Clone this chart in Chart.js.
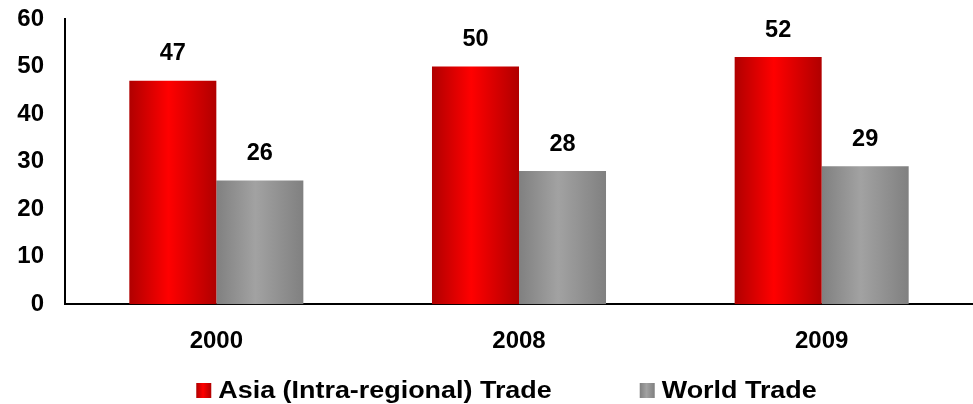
<!DOCTYPE html>
<html>
<head>
<meta charset="utf-8">
<script src="https://cdn.jsdelivr.net/npm/chart.js@4"></script>
<style>
  html, body { margin: 0; padding: 0; background: #fff; }
  #wrap { width: 973px; height: 404px; }
</style>
</head>
<body>
<div id="wrap"><canvas id="tradeChart"></canvas></div>
<script>
const years = ['2000', '2008', '2009'];
const asiaTrade = [47, 50, 52];
const worldTrade = [26, 28, 29];
const seriesNames = ['Asia (Intra-regional) Trade', 'World Trade'];
const yTicks = [0, 10, 20, 30, 40, 50, 60];

const FONT = "Arial, 'Liberation Sans', Helvetica, sans-serif";
const CAT_PCT = 0.575;

// edge / centre colours of the cylinder-like shading per series
const shades = [
  ['#b00000', '#ff0000'],
  ['#808080', '#a2a2a2']
];

function barGradient(ctx, x0, x1, pair) {
  const g = ctx.createLinearGradient(x0, 0, x1, 0);
  g.addColorStop(0, pair[0]);
  g.addColorStop(0.45, pair[1]);
  g.addColorStop(1, pair[0]);
  return g;
}

// gradient spans the bar's own width, worked out from the category scale
function shadeFor(seriesIdx) {
  return (c) => {
    const chart = c.chart;
    const x = chart.scales.x;
    if (!x || c.dataIndex === undefined) return shades[seriesIdx][1];
    const centre = x.getPixelForValue(c.dataIndex);
    const half = (x.width / years.length) * CAT_PCT / 2;
    if (!Number.isFinite(centre) || !Number.isFinite(half) || half <= 0) return shades[seriesIdx][1];
    const x0 = seriesIdx === 0 ? centre - half : centre;
    return barGradient(chart.ctx, x0, x0 + half, shades[seriesIdx]);
  };
}

// value printed above each bar
const valueLabels = {
  id: 'valueLabels',
  afterDatasetsDraw(chart) {
    const ctx = chart.ctx;
    ctx.save();
    ctx.font = 'bold 23.5px ' + FONT;
    ctx.fillStyle = '#000';
    ctx.textAlign = 'center';
    ctx.textBaseline = 'middle';
    chart.data.datasets.forEach((ds, i) => {
      chart.getDatasetMeta(i).data.forEach((bar, j) => {
        ctx.fillText(ds.data[j], bar.x, bar.y - 27);
      });
    });
    ctx.restore();
  }
};

// legend row at the bottom with shaded boxes; text is drawn a little wide
const bottomLegend = {
  id: 'bottomLegend',
  afterDraw(chart) {
    const ctx = chart.ctx;
    const box = 15, gap = 7, spacing = 88, y = 391, stretch = 1.17;
    ctx.save();
    ctx.font = 'bold 23px ' + FONT;
    const widths = seriesNames.map(n => box + gap + ctx.measureText(n).width * stretch);
    const total = widths.reduce((a, b) => a + b, 0) + spacing * (widths.length - 1);
    let x = chart.width / 2 + 20 - total / 2;
    ctx.textBaseline = 'middle';
    seriesNames.forEach((n, i) => {
      ctx.fillStyle = barGradient(ctx, x, x + box, shades[i]);
      ctx.fillRect(x, y - 8, box, 15);
      ctx.save();
      ctx.translate(x + box + gap, y + 1);
      ctx.scale(stretch, 1);
      ctx.fillStyle = '#000';
      ctx.fillText(n, 0, 0);
      ctx.restore();
      x += widths[i] + spacing;
    });
    ctx.restore();
  }
};

const tickFont = { family: FONT, size: 24, weight: 'bold' };

new Chart(document.getElementById('tradeChart'), {
  type: 'bar',
  data: {
    labels: years,
    datasets: [
      { label: seriesNames[0], data: asiaTrade, backgroundColor: shadeFor(0) },
      { label: seriesNames[1], data: worldTrade, backgroundColor: shadeFor(1) }
    ]
  },
  options: {
    responsive: true,
    maintainAspectRatio: false,
    animation: false,
    layout: { padding: { top: 19, right: 0, bottom: 25, left: 0 } },
    datasets: { bar: { categoryPercentage: CAT_PCT, barPercentage: 1 } },
    plugins: { legend: { display: false }, tooltip: { enabled: false } },
    scales: {
      x: {
        grid: { display: false, drawTicks: false },
        border: { color: '#000', width: 2 },
        ticks: { color: '#000', font: tickFont, padding: 23 }
      },
      y: {
        min: 0,
        max: 60,
        afterBuildTicks: s => { s.ticks = yTicks.map(v => ({ value: v })); },
        // fixed axis width; only half a label of room above the top tick
        afterFit: s => {
          s.width = 65;
          s.paddingTop = 14;
          s.paddingBottom = 14;
        },
        grid: { display: false, drawTicks: false },
        border: { color: '#000', width: 2 },
        ticks: { color: '#000', font: tickFont, padding: 21 }
      }
    }
  },
  plugins: [valueLabels, bottomLegend]
});
</script>
</body>
</html>
